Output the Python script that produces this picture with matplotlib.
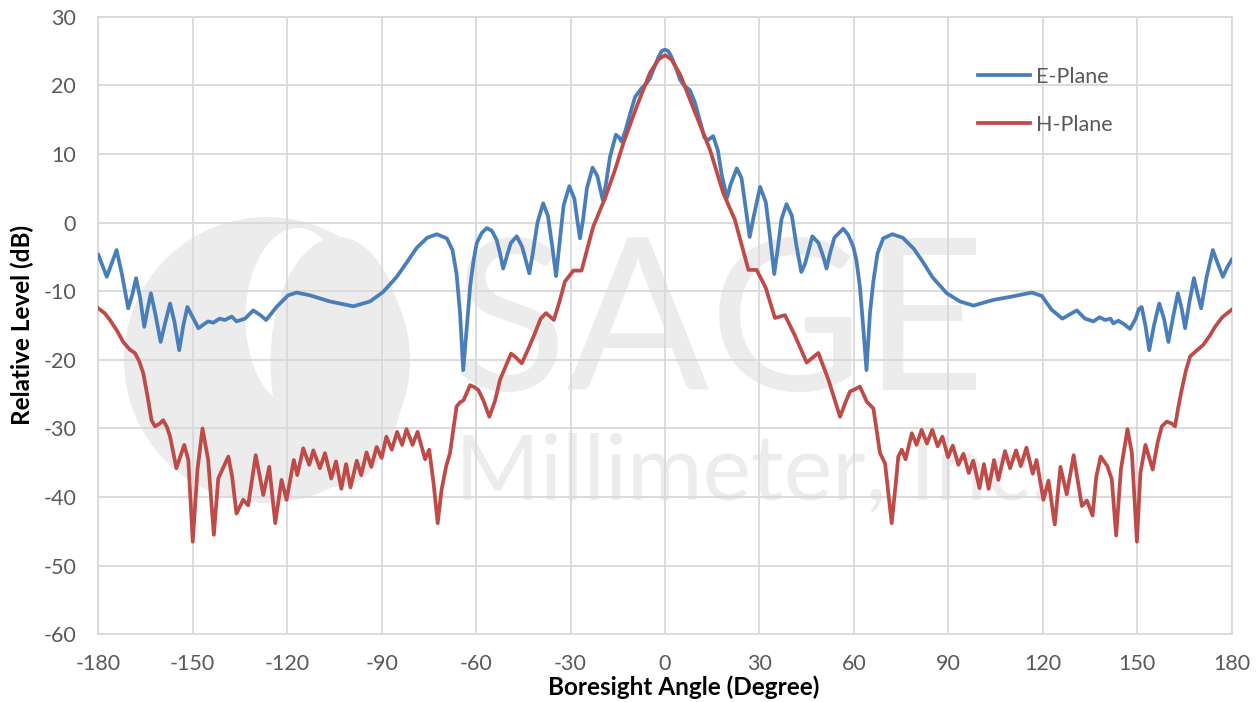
import numpy as np
import matplotlib
matplotlib.use("Agg")
import matplotlib.pyplot as plt
from matplotlib.patches import Circle, Ellipse

plt.rcParams["font.family"] = ["Lato", "DejaVu Sans"]
plt.rcParams["axes.unicode_minus"] = False

# E-plane pattern (angle in degrees, level in dB)
e_angle = [
    -180, -178.5, -177.3, -175.8, -174.2, -172.5, -170.5, -169.2, -168.0, -166.7,
    -165.4, -164.3, -163.3, -161.8, -160.2, -158.7, -157.2, -155.8, -154.3, -153.0,
    -151.7, -150.0, -148.2, -146.1, -145.1, -143.5, -141.5, -139.8, -137.6, -136.1,
    -133.4, -130.8, -128.5, -126.7, -123.4, -119.7, -117.0, -112.8, -106.4, -99.0,
    -93.7, -89.5, -85.2, -82.0, -78.9, -75.5, -72.5, -69.3, -67.5, -66.2,
    -65.1, -64.1, -63.0, -61.9, -60.8, -59.8, -58.2, -56.6, -55.0, -53.5,
    -52.4, -51.4, -50.3, -49.0, -47.1, -45.4, -44.2, -43.1, -42.0, -40.5,
    -38.7, -37.2, -35.8, -34.6, -33.5, -32.2, -30.4, -28.8, -27.9, -27.0,
    -26.0, -24.8, -23.0, -21.5, -20.6, -19.8, -18.8, -17.5, -15.6, -14.6,
    -13.8, -12.5, -11.0, -9.5, -7.4, -6.0, -4.8, -3.5, -2.0, -1.0,
    0,
    1.0, 2.0, 3.5, 4.8, 6.0, 7.9, 9.5, 11.0, 12.5, 13.6,
    15.3, 16.8, 18.0, 19.7, 20.8, 22.8, 24.3, 25.5, 26.9, 28.0,
    30.2, 32.0, 33.2, 34.7, 35.9, 37.0, 38.6, 40.3, 41.8, 43.3,
    44.5, 46.8, 48.8, 50.3, 51.3, 52.4, 53.8, 56.6, 58.2, 59.8,
    60.8, 61.9, 63.0, 64.0, 65.1, 66.2, 67.5, 69.3, 72.2, 75.5,
    79.0, 82.0, 85.0, 89.5, 93.7, 98.0, 104.0, 110.0, 116.5, 119.7,
    122.8, 126.2, 128.5, 130.8, 133.4, 136.1, 138.0, 139.8, 141.5, 142.4,
    144.0, 146.1, 147.7, 149.5, 150.5, 151.4, 152.6, 153.8, 155.4, 157.0,
    158.5, 159.9, 161.5, 162.9, 164.1, 165.2, 166.6, 168.0, 169.2, 170.3,
    172.0, 174.0, 175.6, 177.2, 178.6, 180,
]
e_level = [
    -4.7, -6.5, -7.9, -6.0, -4.0, -7.5, -12.5, -10.5, -8.1, -11.0,
    -15.2, -12.5, -10.3, -13.5, -17.4, -14.5, -11.8, -14.5, -18.6, -15.0,
    -12.3, -13.8, -15.4, -14.7, -14.4, -14.6, -14.0, -14.2, -13.7, -14.4,
    -14.0, -12.8, -13.5, -14.2, -12.3, -10.6, -10.2, -10.6, -11.5, -12.2,
    -11.5, -10.1, -7.9, -5.8, -3.7, -2.2, -1.7, -2.3, -4.0, -7.5,
    -13.2, -21.5, -15.5, -9.3, -5.5, -3.0, -1.5, -0.8, -1.2, -2.5,
    -4.5, -6.7, -5.0, -3.0, -2.0, -3.5, -5.5, -7.4, -4.5, 0.0,
    2.8, 1.0, -3.5, -7.8, -3.0, 2.5, 5.3, 3.5, 0.5, -2.3,
    0.5, 5.0, 8.0, 6.8, 5.0, 3.3, 5.5, 9.5, 12.8, 12.4,
    11.8, 13.5, 16.0, 18.3, 19.6, 20.2, 21.0, 22.5, 24.2, 25.0,
    25.2,
    25.0, 24.2, 22.5, 20.8, 20.0, 19.3, 17.5, 15.0, 12.4, 12.0,
    12.6, 10.5, 7.0, 3.6, 5.5, 7.9, 6.5, 2.5, -2.1, 0.5,
    5.2, 3.0, -1.5, -7.5, -3.5, 0.5, 2.7, 1.0, -3.5, -7.2,
    -6.0, -2.0, -3.0, -5.0, -6.7, -4.5, -2.2, -0.9, -1.8, -3.5,
    -5.5, -9.3, -15.5, -21.5, -13.2, -8.5, -4.5, -2.3, -1.7, -2.2,
    -3.8, -5.8, -8.0, -10.3, -11.5, -12.1, -11.3, -10.8, -10.2, -10.7,
    -12.7, -14.0, -13.4, -12.8, -14.0, -14.4, -13.8, -14.2, -14.0, -14.7,
    -14.3, -14.9, -15.5, -14.0, -12.6, -12.3, -15.0, -18.6, -14.8, -11.8,
    -14.0, -17.4, -13.5, -10.3, -12.5, -15.4, -11.5, -8.1, -10.5, -12.5,
    -8.0, -4.0, -6.0, -7.9, -6.5, -5.4,
]

# H-plane pattern
h_angle = [
    -180, -178.0, -176.3, -174.0, -172.1, -170.0, -168.4, -167.0, -165.7, -164.3,
    -163.1, -162.0, -160.5, -159.4, -158.2, -157.2, -155.2, -152.7, -151.4, -150.0,
    -148.5, -146.9, -145.1, -143.3, -141.9, -138.7, -137.5, -136.1, -134.0, -132.4,
    -130.0, -127.6, -125.7, -123.8, -121.8, -120.2, -117.9, -116.8, -114.9, -113.0,
    -111.7, -109.6, -108.0, -106.0, -104.5, -102.8, -101.3, -99.9, -97.9, -96.5,
    -94.8, -93.3, -91.6, -90.0, -88.5, -86.8, -85.1, -83.5, -82.1, -80.2,
    -78.6, -76.2, -74.9, -73.5, -72.2, -71.0, -69.5, -68.3, -67.2, -66.2,
    -65.1, -64.0, -61.9, -60.5, -59.3, -57.7, -55.8, -54.0, -52.4, -48.9,
    -47.5, -45.5, -43.5, -41.3, -39.5, -37.8, -35.3, -33.5, -31.8, -29.1,
    -26.5, -24.5, -22.8, -19.1, -16.0, -13.2, -9.0, -4.8, -2.0,
    0,
    2.0, 4.8, 10.1, 14.3, 18.5, 22.2, 24.5, 26.5, 29.1, 32.0,
    34.9, 38.1, 41.3, 45.0, 48.7, 51.9, 55.6, 57.5, 58.8, 60.3,
    61.9, 64.1, 66.2, 67.3, 68.3, 69.9, 72.0, 73.3, 74.1, 75.2,
    76.4, 78.4, 79.9, 81.5, 83.2, 84.9, 86.6, 88.1, 89.9, 91.4,
    93.2, 94.8, 96.5, 97.9, 99.9, 101.3, 102.8, 104.5, 105.9, 108.0,
    109.6, 111.5, 113.0, 114.8, 116.8, 118.0, 120.2, 121.8, 123.8, 125.6,
    127.6, 129.8, 132.4, 134.0, 135.8, 137.0, 138.4, 140.5, 141.9, 143.3,
    144.8, 146.9, 148.3, 149.9, 151.0, 152.6, 154.9, 156.5, 157.8, 159.4,
    161.0, 162.0, 163.0, 164.1, 165.5, 166.8, 168.5, 171.0, 173.0, 174.7,
    177.0, 180,
]
h_level = [
    -12.5, -13.2, -14.2, -15.8, -17.4, -18.5, -19.0, -20.2, -22.0, -25.5,
    -28.8, -29.7, -29.3, -28.8, -29.8, -31.2, -35.8, -32.4, -34.6, -46.5,
    -36.0, -30.0, -34.6, -45.5, -37.3, -34.1, -37.0, -42.4, -40.4, -41.2,
    -33.9, -39.7, -35.6, -43.8, -37.5, -40.4, -34.6, -36.8, -32.9, -35.3,
    -33.2, -35.8, -33.6, -37.3, -34.8, -38.8, -35.2, -38.6, -34.7, -36.8,
    -33.5, -35.6, -32.7, -34.3, -31.2, -33.1, -30.5, -32.4, -30.1, -32.4,
    -30.5, -34.5, -33.1, -38.0, -43.8, -39.0, -35.5, -33.6, -30.0, -26.8,
    -26.2, -25.9, -23.7, -24.0, -24.4, -25.9, -28.3, -26.0, -22.9, -19.1,
    -19.6, -20.5, -18.5, -16.1, -14.0, -13.2, -14.2, -11.5, -8.6, -7.0,
    -7.0, -3.5, -0.6, 3.5, 7.5, 11.6, 16.9, 21.8, 23.8,
    24.4,
    23.8, 21.6, 15.4, 10.6, 4.3, 0.4, -3.5, -6.9, -6.9, -9.5,
    -13.9, -13.5, -16.5, -20.4, -19.0, -22.9, -28.3, -26.0, -24.6, -24.3,
    -23.9, -26.1, -27.1, -30.5, -33.6, -35.1, -43.8, -38.0, -34.1, -33.1,
    -34.5, -30.7, -32.4, -30.2, -32.2, -30.2, -32.6, -31.2, -34.2, -32.5,
    -35.3, -33.7, -36.5, -34.7, -38.7, -35.2, -38.8, -34.6, -37.5, -33.3,
    -35.8, -33.2, -35.5, -32.8, -36.6, -34.6, -40.4, -37.6, -44.0, -35.6,
    -39.6, -33.9, -41.3, -40.5, -42.7, -37.0, -34.1, -35.5, -37.4, -45.6,
    -36.0, -30.1, -33.6, -46.5, -36.5, -32.4, -36.0, -32.0, -29.7, -29.0,
    -29.3, -29.7, -27.0, -24.4, -21.5, -19.5, -18.8, -17.8, -16.5, -15.2,
    -13.8, -12.7,
]

x_ticks = list(range(-180, 181, 30))
y_ticks = list(range(-60, 31, 10))

W, H = 1260, 702
fig = plt.figure(figsize=(W / 100, H / 100), dpi=100)

# faint company watermark behind the plot
bg = fig.add_axes([0, 0, 1, 1], zorder=0)
bg.set_xlim(0, W)
bg.set_ylim(H, 0)
bg.axis("off")
wm = "#ececec"
bg.add_patch(Circle((267, 360), 143, color=wm, lw=0))
bg.add_patch(Ellipse((298, 318), 105, 180, color="white", lw=0))
bg.add_patch(Ellipse((338, 362), 135, 250, color=wm, lw=0))
bg.text(452, 390, "SAGE", color=wm, fontsize=152, fontweight="normal",
        ha="left", va="baseline")
bg.text(455, 500, "Millimeter, Inc.", color=wm, fontsize=66, fontweight="normal",
        ha="left", va="baseline")

ax = fig.add_axes([98.3 / W, 1 - 634.3 / H, 1133.4 / W, 617.6 / H], zorder=1)
ax.patch.set_alpha(0)

ax.plot(e_angle, e_level, color="#4a7ebb", lw=2.7, label="E-Plane", zorder=3,
        solid_joinstyle="round")
ax.plot(h_angle, h_level, color="#be4b48", lw=2.7, label="H-Plane", zorder=3,
        solid_joinstyle="round")

ax.set_xlim(-180, 180)
ax.set_ylim(-60, 30)
ax.set_xticks(x_ticks)
ax.set_yticks(y_ticks)
ax.grid(True, color="#d9d9d9", lw=1.3)
ax.set_axisbelow(True)
for s in ax.spines.values():
    s.set_color("#d9d9d9")
    s.set_linewidth(1.3)
ax.tick_params(length=0, labelsize=15.5, labelcolor="#595959")
ax.tick_params(axis="x", pad=14)
ax.tick_params(axis="y", pad=16)

fig.text(684 / W, 1 - 687 / H, "Boresight Angle (Degree)", ha="center",
         va="center", fontsize=17.5, fontweight="bold")
fig.text(22 / W, 1 - 325 / H, "Relative Level (dB)", ha="center", va="center",
         rotation=90, fontsize=17.5, fontweight="bold")

ax.legend(loc="upper left", bbox_to_anchor=(978 / W, 1 - 67 / H),
          bbox_transform=fig.transFigure, frameon=False, fontsize=15.5,
          labelcolor="#595959", handlelength=2.4, handletextpad=0.3,
          labelspacing=1.3, borderpad=0, borderaxespad=0)

fig.savefig("out.png", dpi=100)
